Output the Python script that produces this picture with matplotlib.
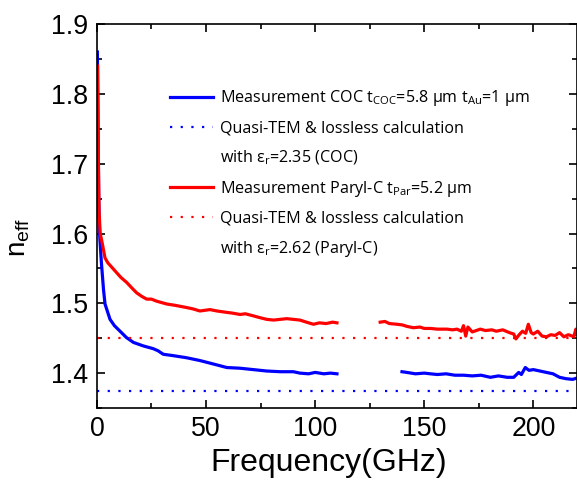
import matplotlib
matplotlib.use("Agg")
import matplotlib.pyplot as plt
from matplotlib.lines import Line2D
from matplotlib.ticker import MultipleLocator

# ---------------- data ----------------
blue_f1 = [0.2, 0.5, 0.8, 1.2, 2.0, 3.0, 3.7, 6.0, 8.0, 10.6, 13.5, 16.7, 21.2, 25.8, 28.0,
           30.4, 35.0, 41.1, 47.2, 53.4, 59.5, 65.6, 71.7, 77.8, 84.0, 90.0, 93.0, 97.0,
           100.0, 104.0, 107.0, 110.0]
blue_v1 = [1.860, 1.750, 1.650, 1.600, 1.560, 1.520, 1.499, 1.477, 1.468, 1.460, 1.451, 1.444,
           1.439, 1.435, 1.432, 1.427, 1.425, 1.422, 1.418, 1.413, 1.408, 1.407, 1.405, 1.403,
           1.402, 1.402, 1.400, 1.399, 1.401, 1.399, 1.400, 1.399]
blue_f2 = [139.8, 142.0, 146.0, 150.0, 152.8, 156.0, 160.0, 164.0, 168.0, 172.0, 176.0, 180.3,
           184.0, 188.0, 191.0, 193.3, 194.5, 196.3, 198.0, 200.0, 203.0, 206.0, 209.0, 212.0,
           215.0, 218.0, 220.0]
blue_v2 = [1.402, 1.401, 1.399, 1.400, 1.399, 1.398, 1.399, 1.397, 1.397, 1.396, 1.397, 1.394,
           1.396, 1.394, 1.394, 1.401, 1.398, 1.408, 1.404, 1.405, 1.403, 1.401, 1.399, 1.394,
           1.392, 1.391, 1.393]

red_f1 = [0.3, 0.6, 1.0, 1.5, 2.5, 3.7, 5.0, 7.0, 9.0, 11.0, 13.6, 16.0, 18.2, 20.5, 22.8,
          25.0, 27.4, 32.0, 36.0, 41.0, 44.0, 47.2, 51.8, 55.0, 59.5, 62.0, 65.6, 68.0, 71.7,
          74.0, 77.8, 81.0, 84.0, 87.0, 90.0, 93.0, 96.0, 99.2, 102.0, 105.0, 108.0, 110.0]
red_v1 = [1.840, 1.720, 1.630, 1.600, 1.585, 1.565, 1.558, 1.551, 1.544, 1.537, 1.530, 1.522,
          1.515, 1.510, 1.506, 1.506, 1.503, 1.499, 1.497, 1.494, 1.492, 1.489, 1.491, 1.489,
          1.487, 1.486, 1.484, 1.485, 1.482, 1.480, 1.477, 1.476, 1.477, 1.478, 1.477, 1.476,
          1.473, 1.470, 1.472, 1.471, 1.473, 1.472]
red_f2 = [129.8, 132.0, 134.0, 137.5, 140.0, 142.0, 145.0, 148.0, 150.0, 152.8, 156.0, 160.4,
          163.0, 165.0, 167.0, 168.0, 169.0, 170.0, 172.0, 175.7, 178.0, 181.0, 183.0, 186.0,
          189.0, 191.0, 192.0, 193.5, 195.0, 196.5, 197.7, 199.0, 200.0, 202.0, 204.0, 206.0,
          208.0, 210.0, 212.0, 214.0, 216.0, 217.0, 218.5, 219.5, 220.0]
red_v2 = [1.473, 1.474, 1.471, 1.470, 1.469, 1.467, 1.465, 1.466, 1.464, 1.464, 1.463, 1.463,
          1.462, 1.463, 1.460, 1.468, 1.453, 1.466, 1.459, 1.463, 1.461, 1.462, 1.460, 1.462,
          1.458, 1.456, 1.449, 1.455, 1.460, 1.457, 1.470, 1.458, 1.456, 1.460, 1.453, 1.452,
          1.455, 1.454, 1.458, 1.452, 1.455, 1.454, 1.452, 1.463, 1.456]

calc_coc = 1.375
calc_par = 1.45

labels = [
    r"Measurement COC t$_{\mathregular{COC}}$=5.8 µm t$_{\mathregular{Au}}$=1 µm",
    "Quasi-TEM & lossless calculation",
    r"with ε$_{\mathregular{r}}$=2.35 (COC)",
    r"Measurement Paryl-C t$_{\mathregular{Par}}$=5.2 µm",
    "Quasi-TEM & lossless calculation",
    r"with ε$_{\mathregular{r}}$=2.62 (Paryl-C)",
]

# ---------------- figure ----------------
plt.rcParams['font.family'] = ['Liberation Sans', 'DejaVu Sans']
plt.rcParams['mathtext.fontset'] = 'custom'
plt.rcParams['mathtext.rm'] = 'Liberation Sans'

fig = plt.figure(figsize=(5.77, 4.82), dpi=100)
ax = fig.add_axes([0.168, 0.1535, 0.832, 0.7965])

blue = '#0000FF'
red = '#FF0000'
lw = 2.3
ax.plot(blue_f1, blue_v1, color=blue, lw=lw, solid_joinstyle='round')
ax.plot(blue_f2, blue_v2, color=blue, lw=lw, solid_joinstyle='round')
ax.plot(red_f1, red_v1, color=red, lw=lw, solid_joinstyle='round')
ax.plot(red_f2, red_v2, color=red, lw=lw, solid_joinstyle='round')
dot_style = (0, (1, 3.8))
ax.axhline(calc_coc, color=blue, lw=1.6, ls=dot_style)
ax.axhline(calc_par, color=red, lw=1.6, ls=dot_style)

ax.set_xlim(0, 220)
ax.set_ylim(1.35, 1.9)
ax.xaxis.set_major_locator(MultipleLocator(50))
ax.xaxis.set_minor_locator(MultipleLocator(25))
ax.yaxis.set_major_locator(MultipleLocator(0.1))
ax.yaxis.set_minor_locator(MultipleLocator(0.05))
ax.tick_params(which='both', direction='in', top=True, right=True, width=1.2)
ax.tick_params(which='major', length=6, labelsize=19.3, pad=6)
ax.tick_params(which='minor', length=3.5)
for s in ax.spines.values():
    s.set_linewidth(1.2)

ax.set_xlabel("Frequency(GHz)", fontsize=23)
ax.xaxis.set_label_coords(0.483, -0.103)
ax.set_ylabel(r"n$_{\mathregular{eff}}$", fontsize=20)
ax.yaxis.set_label_coords(-0.135, 0.445)

handles = [
    Line2D([], [], color=blue, lw=lw),
    Line2D([], [], color=blue, lw=1.6, ls=dot_style),
    Line2D([], [], color='none'),
    Line2D([], [], color=red, lw=lw),
    Line2D([], [], color=red, lw=1.6, ls=dot_style),
    Line2D([], [], color='none'),
]
leg = ax.legend(handles, labels, loc='upper left', bbox_to_anchor=(0.152, 0.833),
                frameon=False, handlelength=2.7, handletextpad=0.43,
                borderpad=0, borderaxespad=0,
                labelspacing=0.75, prop={'family': ['Open Sans', 'DejaVu Sans'], 'size': 11.6})

fig.savefig("out.png", dpi=100)
